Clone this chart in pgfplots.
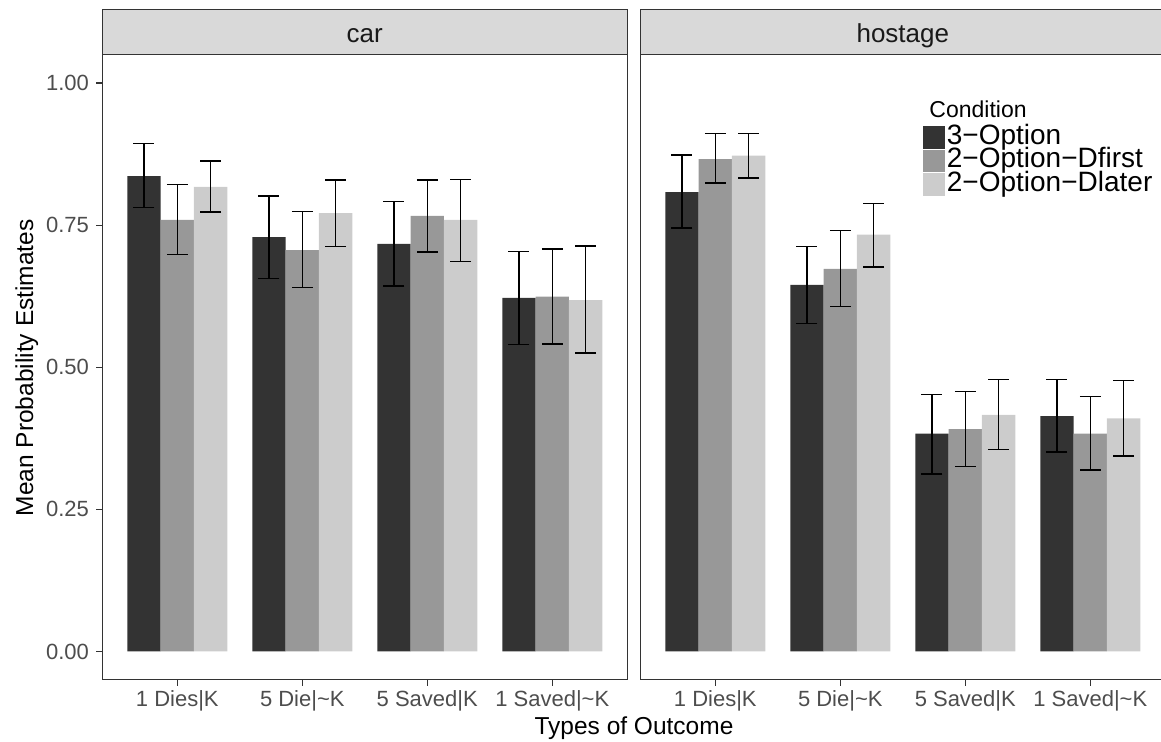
\documentclass[border=0pt]{standalone}
\usepackage{fontspec}
\setmainfont{Liberation Sans}
\usepackage{pgfplots}
\pgfplotsset{compat=1.18}
\usepackage{pgfplotstable}

\definecolor{opt3}{HTML}{333333}
\definecolor{dfirst}{HTML}{989898}
\definecolor{dlater}{HTML}{CCCCCC}
\definecolor{stripfill}{HTML}{D9D9D9}
\definecolor{framecol}{HTML}{333333}
\definecolor{ticktext}{HTML}{4D4D4D}

% mean / lower / upper for 3-Option (a), 2-Option-Dfirst (f), 2-Option-Dlater (l)
\pgfplotstableread{
x  a     alo   ahi   f     flo   fhi   l     llo   lhi
1  0.836 0.781 0.894 0.759 0.698 0.821 0.817 0.773 0.863
2  0.729 0.656 0.801 0.706 0.640 0.774 0.771 0.712 0.829
3  0.717 0.643 0.791 0.766 0.703 0.829 0.759 0.686 0.830
4  0.622 0.540 0.704 0.624 0.541 0.708 0.618 0.525 0.713
}\cardata

\pgfplotstableread{
x  a     alo   ahi   f     flo   fhi   l     llo   lhi
1  0.808 0.745 0.873 0.866 0.824 0.911 0.872 0.833 0.911
2  0.645 0.577 0.712 0.673 0.607 0.740 0.733 0.676 0.788
3  0.383 0.312 0.452 0.391 0.325 0.457 0.416 0.355 0.478
4  0.414 0.351 0.478 0.383 0.319 0.448 0.410 0.344 0.477
}\hostagedata

\pgfplotsset{
  facet/.style={
    scale only axis, width=262.5pt, height=312.675pt,
    anchor=south west,
    ybar, bar width=0.2667,
    xmin=0.4, xmax=4.6, ymin=-0.05, ymax=1.05,
    xtick={1,2,3,4},
    xticklabels={1 Dies|K, 5 Die|\textasciitilde K, 5 Saved|K, 1 Saved|\textasciitilde K},
    tick pos=left, tick align=outside, major tick length=3pt,
    tick style={framecol, line width=0.55pt},
    axis line style={framecol, line width=0.6pt},
    ticklabel style={font=\fontsize{11}{11}\selectfont, text=ticktext, inner sep=0pt},
    xticklabel style={anchor=base, yshift=-10.5pt},
    yticklabel style={xshift=-3.5pt},
    clip=false,
  },
  ebar/.style={
    error bars/.cd, y dir=both, y explicit,
    error bar style={black, line width=0.7pt},
    error mark options={black, line width=0.7pt, mark size=5.25pt, rotate=90},
  },
}
\tikzset{striplabel/.style={font=\fontsize{13}{13}\selectfont, text=black!90, anchor=base}}

\begin{document}
\begin{tikzpicture}
\useasboundingbox (0,0) rectangle (580.5pt,371pt);

\begin{axis}[facet, at={(51.15pt,31.05pt)},
    ytick={0,0.25,0.5,0.75,1},
    yticklabels={0.00,0.25,0.50,0.75,1.00}]
\addplot[fill=opt3, draw=none, bar shift=-0.2667, ebar] table[x=x, y=a,
    y error plus expr=\thisrow{ahi}-\thisrow{a},
    y error minus expr=\thisrow{a}-\thisrow{alo}] {\cardata};
\addplot[fill=dfirst, draw=none, bar shift=0, ebar] table[x=x, y=f,
    y error plus expr=\thisrow{fhi}-\thisrow{f},
    y error minus expr=\thisrow{f}-\thisrow{flo}] {\cardata};
\addplot[fill=dlater, draw=none, bar shift=0.2667, ebar] table[x=x, y=l,
    y error plus expr=\thisrow{lhi}-\thisrow{l},
    y error minus expr=\thisrow{l}-\thisrow{llo}] {\cardata};
\draw[fill=stripfill, draw=framecol, line width=0.6pt]
    (rel axis cs:0,1) rectangle ([yshift=22.5pt]rel axis cs:1,1);
\node[striplabel] at ([yshift=6.15pt]rel axis cs:0.5,1) {car};
\end{axis}

\begin{axis}[facet, at={(320.15pt,31.05pt)},
    ytick=\empty,
    legend cell align=left,
    legend image code/.code={\fill[#1] (0pt,-5.6pt) rectangle (11pt,5.6pt);},
    legend style={at={(0.5375,0.8865)}, anchor=north west, draw=none, fill=none,
        inner sep=0pt, row sep=0pt, column sep=1pt,
        font=\fontsize{14}{14}\selectfont,
        nodes={inner sep=0pt, text height=9.2pt, text depth=2.5pt}}]
\addplot[fill=opt3, draw=none, bar shift=-0.2667, ebar] table[x=x, y=a,
    y error plus expr=\thisrow{ahi}-\thisrow{a},
    y error minus expr=\thisrow{a}-\thisrow{alo}] {\hostagedata};
\addlegendentry{3−Option}
\addplot[fill=dfirst, draw=none, bar shift=0, ebar] table[x=x, y=f,
    y error plus expr=\thisrow{fhi}-\thisrow{f},
    y error minus expr=\thisrow{f}-\thisrow{flo}] {\hostagedata};
\addlegendentry{2−Option−Dfirst}
\addplot[fill=dlater, draw=none, bar shift=0.2667, ebar] table[x=x, y=l,
    y error plus expr=\thisrow{lhi}-\thisrow{l},
    y error minus expr=\thisrow{l}-\thisrow{llo}] {\hostagedata};
\addlegendentry{2−Option−Dlater}
\draw[fill=stripfill, draw=framecol, line width=0.6pt]
    (rel axis cs:0,1) rectangle ([yshift=22.5pt]rel axis cs:1,1);
\node[striplabel] at ([yshift=6.15pt]rel axis cs:0.5,1) {hostage};
\node[anchor=base west, inner sep=0pt, font=\fontsize{11.5}{11.5}\selectfont]
    at (rel axis cs:0.55,0.899) {Condition};
\end{axis}

\node[anchor=base, font=\fontsize{12.25}{12.25}\selectfont] at (317pt,3.85pt) {Types of Outcome};
\node[anchor=base, rotate=90, font=\fontsize{12.25}{12.25}\selectfont] at (16.5pt,187.1pt) {Mean Probability Estimates};
\end{tikzpicture}
\end{document}
